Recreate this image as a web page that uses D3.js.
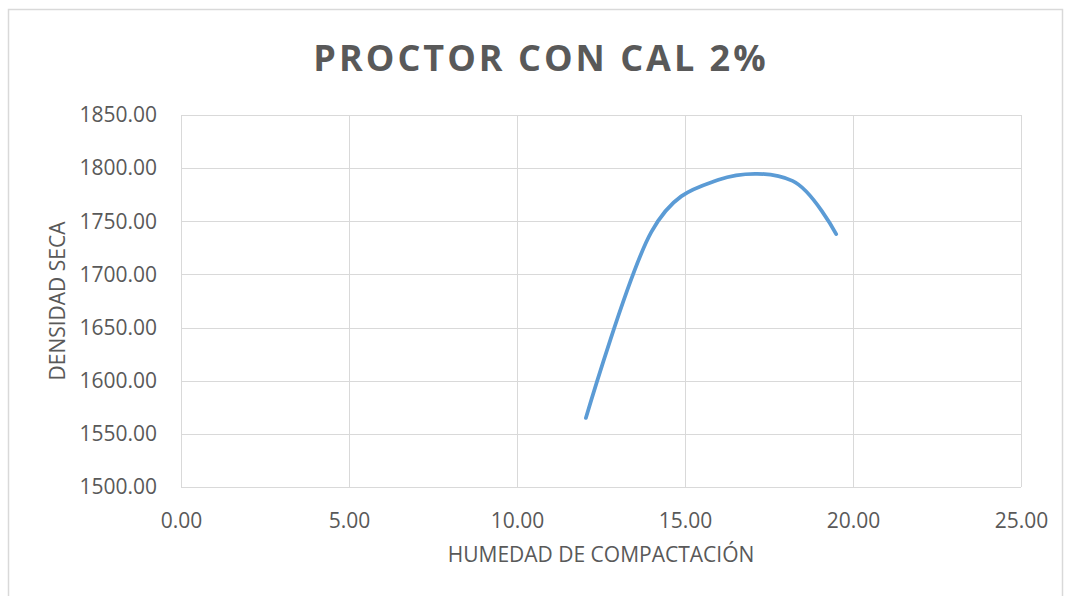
<!DOCTYPE html>
<head>
<meta http-equiv="Content-type" content="text/html;charset=UTF-8">
</head>
<style>
body { margin: 0; background: #fff; }
.axis .domain { display: none; }
.axis line { stroke: none; }
.axis text { font-family: "Open Sans", sans-serif; font-size: 21px; fill: #595959; }
</style>
<svg width="1065" height="596"></svg>
<script src="https://d3js.org/d3.v7.min.js"></script>
<script>

// humedad (%) and densidad seca
var humedad = [12.05, 14.0, 16.0, 18.2, 19.5];
var densidad = [1565, 1740, 1789, 1788, 1738];
var xTicks = [0, 5, 10, 15, 20, 25];
var yTicks = [1500, 1550, 1600, 1650, 1700, 1750, 1800, 1850];

var svg = d3.select("svg"),
    margin = {top: 115, right: 44, bottom: 109, left: 181},
    width = +svg.attr("width") - margin.left - margin.right,
    height = +svg.attr("height") - margin.top - margin.bottom,
    g = svg.append("g").attr("transform", "translate(" + margin.left + "," + margin.top + ")");

// chart border
svg.append("rect")
    .attr("x", 8.5).attr("y", 9.5)
    .attr("width", 1054).attr("height", 600)
    .attr("fill", "none").attr("stroke", "#d9d9d9").attr("stroke-width", 1.5);

var x = d3.scaleLinear().domain([0, 25]).range([0, width]);
var y = d3.scaleLinear().domain([1500, 1850]).range([height, 0]);

// gridlines
g.selectAll(".hgrid").data(yTicks).enter().append("line")
    .attr("x1", 0).attr("x2", width)
    .attr("y1", function(d) { return Math.round(y(d)) + 0.5; })
    .attr("y2", function(d) { return Math.round(y(d)) + 0.5; })
    .attr("stroke", "#d9d9d9");
g.selectAll(".vgrid").data(xTicks).enter().append("line")
    .attr("y1", 0).attr("y2", height)
    .attr("x1", function(d) { return Math.round(x(d)) + 0.5; })
    .attr("x2", function(d) { return Math.round(x(d)) + 0.5; })
    .attr("stroke", "#d9d9d9");

g.append("g")
    .attr("class", "axis")
    .attr("transform", "translate(0," + height + ")")
    .call(d3.axisBottom(x).tickValues(xTicks).tickFormat(d3.format(".2f")).tickSize(0).tickPadding(26));

g.append("g")
    .attr("class", "axis")
    .call(d3.axisLeft(y).tickValues(yTicks).tickFormat(d3.format(".2f")).tickSize(0).tickPadding(24));

var pts = humedad.map(function(h, i) { return [h, densidad[i]]; });

var line = d3.line()
    .x(function(d) { return x(d[0]); })
    .y(function(d) { return y(d[1]); })
    .curve(d3.curveCardinal.tension(0));

g.append("path")
    .datum(pts)
    .attr("d", line)
    .attr("fill", "none")
    .attr("stroke", "#5b9bd5")
    .attr("stroke-width", 3.75)
    .attr("stroke-linecap", "round");

// title
svg.append("text")
    .attr("x", 541).attr("y", 71)
    .attr("text-anchor", "middle")
    .attr("font-family", "'Open Sans', sans-serif")
    .attr("font-weight", "bold")
    .attr("font-size", 36)
    .attr("letter-spacing", 3)
    .attr("fill", "#595959")
    .text("PROCTOR CON CAL 2%");

// axis titles
svg.append("text")
    .attr("x", margin.left + width / 2).attr("y", 562)
    .attr("text-anchor", "middle")
    .attr("font-family", "'Open Sans', sans-serif")
    .attr("font-size", 21)
    .attr("fill", "#595959")
    .text("HUMEDAD DE COMPACTACIÓN");

svg.append("text")
    .attr("transform", "translate(65," + (margin.top + height / 2) + ") rotate(-90)")
    .attr("text-anchor", "middle")
    .attr("font-family", "'Open Sans', sans-serif")
    .attr("font-size", 21)
    .attr("fill", "#595959")
    .text("DENSIDAD SECA");

</script>
